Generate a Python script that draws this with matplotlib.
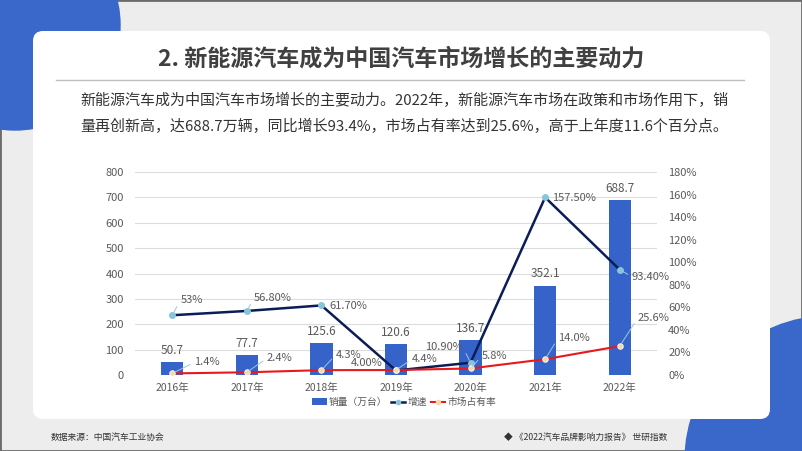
import matplotlib
matplotlib.use('Agg')
import matplotlib.pyplot as plt
from matplotlib.patches import Circle, FancyBboxPatch, Rectangle, Patch
from matplotlib.lines import Line2D

plt.rcParams['font.family'] = ['Noto Sans CJK SC', 'DejaVu Sans']

# ---------------- data ----------------
years = ['2016年', '2017年', '2018年', '2019年', '2020年', '2021年', '2022年']
sales = [50.7, 77.7, 125.6, 120.6, 136.7, 352.1, 688.7]
growth = [53.0, 56.8, 61.7, 4.0, 10.9, 157.5, 93.4]
growth_labels = ['53%', '56.80%', '61.70%', '4.00%', '10.90%', '157.50%', '93.40%']
share = [1.4, 2.4, 4.3, 4.4, 5.8, 14.0, 25.6]
share_labels = ['1.4%', '2.4%', '4.3%', '4.4%', '5.8%', '14.0%', '25.6%']
left_ticks = [0, 100, 200, 300, 400, 500, 600, 700, 800]
right_ticks = [0, 20, 40, 60, 80, 100, 120, 140, 160, 180]
legend_labels = ['销量（万台）', '增速', '市场占有率']

title = '2. 新能源汽车成为中国汽车市场增长的主要动力'
body1 = '新能源汽车成为中国汽车市场增长的主要动力。2022年，新能源汽车市场在政策和市场作用下，销'
body2 = '量再创新高，达688.7万辆，同比增长93.4%，市场占有率达到25.6%，高于上年度11.6个百分点。'
source = '数据来源：中国汽车工业协会'
report = '◆ 《2022汽车品牌影响力报告》 世研指数'

# label placement (pixel offsets from the point), alignment, leader line
g_off = [(8, 15), (7, 13), (8, -1), (-13, 7), (-8, 16), (7, -1), (12, -7)]
g_ha = ['left', 'left', 'left', 'right', 'right', 'left', 'left']
g_lead = [True, True, False, False, True, False, True]
s_off = [(22, 11), (20, 14), (14, 15), (16, 11), (11, 12), (13, 21), (18, 28)]

W, H = 802, 451
BLUE = '#3563c9'
NAVY = '#0b1d58'
RED = '#e8191e'
GREY = '#595959'
LEAD = '#9fc6dc'

fig = plt.figure(figsize=(W / 100, H / 100), dpi=100)

# ---------------- background ----------------
bg = fig.add_axes([0, 0, 1, 1])
bg.set_xlim(0, W)
bg.set_ylim(H, 0)
bg.axis('off')
bg.add_patch(Rectangle((0, 0), W, H, facecolor='#ededed', edgecolor='#6b6b6b', lw=2))
bg.add_patch(Circle((15, 25), 105, color='#3a67ca'))
bg.add_patch(Circle((830, 461), 145, color='#3a67ca'))
bg.add_patch(FancyBboxPatch((43, 41), 717, 368, boxstyle='round,pad=10',
                            fc='white', ec='none'))
bg.text(401, 59, title, ha='center', va='center', fontsize=16.6,
        fontweight='bold', color='#404040')
bg.plot([56, 744], [80, 80], color='#bfbfbf', lw=1)
bg.text(80, 100, body1, ha='left', va='center', fontsize=10.8, color='#333333')
bg.text(80, 126, body2, ha='left', va='center', fontsize=10.8, color='#333333')
bg.text(51, 437, source, ha='left', va='center', fontsize=6.3, color='#333333')
bg.text(667, 437, report, ha='right', va='center', fontsize=6.3, color='#333333')

# ---------------- chart ----------------
ax = fig.add_axes([135 / W, (H - 375) / H, 522 / W, 203 / H])
ax.patch.set_alpha(0)
x = list(range(len(years)))
ax.bar(x, sales, width=0.3, color=BLUE, zorder=2)
ax.set_xlim(-0.5, len(years) - 0.5)
ax.set_ylim(0, 800)
ax.set_yticks(left_ticks)
ax.set_xticks(x)
ax.set_xticklabels(years)
ax.grid(axis='y', color='#dcdcdc', lw=0.8, zorder=0)
ax.set_axisbelow(True)
for s in ax.spines.values():
    s.set_visible(False)
ax.tick_params(axis='y', length=0, labelsize=8, labelcolor=GREY, pad=8)
ax.tick_params(axis='x', length=0, labelsize=7.5, labelcolor=GREY, pad=6)

for i, v in enumerate(sales):
    ax.annotate(f'{v}', (i, v), xytext=(0, 12), textcoords='offset pixels',
                ha='center', va='center', fontsize=8.5, color=GREY)

ax2 = ax.twinx()
ax2.set_ylim(0, 180)
ax2.set_yticks(right_ticks)
ax2.set_yticklabels([f'{t}%' for t in right_ticks])
for s in ax2.spines.values():
    s.set_visible(False)
ax2.tick_params(axis='y', length=0, labelsize=8, labelcolor=GREY, pad=8)

ax2.plot(x, growth, color=NAVY, lw=1.8, marker='o', ms=4,
         mfc='#86c5da', mec='#86c5da', zorder=3)
ax2.plot(x, share, color=RED, lw=1.5, marker='o', ms=4,
         mfc='#fbd7a6', mec='white', mew=0.6, zorder=3)

for i, v in enumerate(growth):
    ap = None
    if g_lead[i]:
        ap = dict(arrowstyle='-', color=LEAD, lw=0.7, shrinkA=1, shrinkB=2,
                  relpos=(0, 0.5) if g_ha[i] == 'left' else (1, 0.5))
    ax2.annotate(growth_labels[i], (i, v), xytext=g_off[i],
                 textcoords='offset pixels', ha=g_ha[i], va='center',
                 fontsize=8, color=GREY, arrowprops=ap, zorder=4)

for i, v in enumerate(share):
    ax2.annotate(share_labels[i], (i, v), xytext=s_off[i],
                 textcoords='offset pixels', ha='left', va='center',
                 fontsize=8, color=GREY, zorder=4,
                 arrowprops=dict(arrowstyle='-', color=LEAD, lw=0.7,
                                 shrinkA=1, shrinkB=2, relpos=(0, 0.5)))

handles = [Patch(facecolor=BLUE),
           Line2D([], [], color=NAVY, lw=1.8, marker='o', ms=3,
                  mfc='#86c5da', mec='#86c5da'),
           Line2D([], [], color=RED, lw=1.5, marker='o', ms=3,
                  mfc='#fbd7a6', mec='#fbd7a6')]
fig.legend(handles, legend_labels, loc='center',
           bbox_to_anchor=(404 / W, 1 - 402 / H), ncol=3, frameon=False,
           fontsize=7, handlelength=1.5, handleheight=0.7, handletextpad=0.2,
           columnspacing=0.4, labelcolor=GREY, borderpad=0)

fig.savefig('out.png', dpi=100)
